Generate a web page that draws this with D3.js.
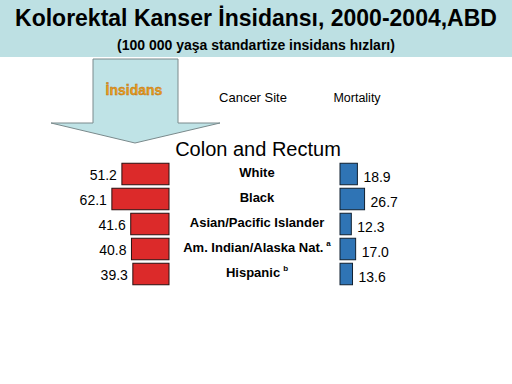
<!DOCTYPE html>
<html>
<head>
<meta charset="utf-8">
<script src="https://cdn.jsdelivr.net/npm/d3@7"></script>
<style>
  body { margin: 0; background: #fff; }
  text { font-family: "Liberation Sans", Arial, sans-serif; }
</style>
</head>
<body>
<div id="chart"></div>
<script>
// data
var categories = ["White", "Black", "Asian/Pacific Islander", "Am. Indian/Alaska Nat.", "Hispanic"];
var notes = ["", "", "", "a", "b"];
var incidence = [51.2, 62.1, 41.6, 40.8, 39.3];
var mortality = [18.9, 26.7, 12.3, 17.0, 13.6];

var width = 512, height = 384;

var svg = d3.select("#chart").append("svg")
  .attr("width", width)
  .attr("height", height);

// title band
svg.append("rect")
  .attr("x", 0).attr("y", 0)
  .attr("width", width).attr("height", 57)
  .attr("fill", "#bde0e3");

svg.append("text")
  .attr("x", 256).attr("y", 26)
  .attr("text-anchor", "middle")
  .style("font-size", "23px").style("font-weight", "bold")
  .text("Kolorektal Kanser İnsidansı, 2000-2004,ABD");

svg.append("text")
  .attr("x", 256).attr("y", 50)
  .attr("text-anchor", "middle")
  .style("font-size", "14px").style("font-weight", "bold")
  .text("(100 000 yaşa standartize insidans hızları)");

// big arrow
var arrow = [[93, 59], [178, 59], [178, 123], [220, 123], [135, 143], [51, 123], [93, 123]];
svg.append("path")
  .attr("d", d3.line()(arrow) + "Z")
  .attr("fill", "#bfe3e6")
  .attr("stroke", "#7a8a8c")
  .attr("stroke-width", 1);

svg.append("text")
  .attr("x", 134).attr("y", 95)
  .attr("text-anchor", "middle")
  .attr("fill", "#eaa01c")
  .attr("stroke", "#b86a10").attr("stroke-width", 0.4)
  .style("font-size", "14px").style("font-weight", "bold")
  .text("İnsidans");

// column headers
svg.append("text")
  .attr("x", 253).attr("y", 102)
  .attr("text-anchor", "middle")
  .style("font-size", "13px")
  .text("Cancer Site");

svg.append("text")
  .attr("x", 357).attr("y", 102)
  .attr("text-anchor", "middle")
  .style("font-size", "12.5px")
  .text("Mortality");

svg.append("text")
  .attr("x", 258).attr("y", 156)
  .attr("text-anchor", "middle")
  .style("font-size", "20px")
  .text("Colon and Rectum");

// scales
var y = d3.scaleBand()
  .domain(categories)
  .range([162, 286])
  .paddingInner(0.14)
  .paddingOuter(0.05);

var w = d3.scaleLinear().domain([0, 10]).range([0, 9.2]);

var redRight = 169, blueLeft = 340;

var rows = svg.selectAll("g.row")
  .data(categories)
  .enter().append("g")
  .attr("class", "row");

rows.append("rect")
  .attr("x", function(d, i) { return redRight - w(incidence[i]); })
  .attr("y", function(d) { return y(d); })
  .attr("width", function(d, i) { return w(incidence[i]); })
  .attr("height", y.bandwidth())
  .attr("fill", "#dc2a2a")
  .attr("stroke", "#2a1010").attr("stroke-width", 1);

rows.append("text")
  .attr("x", function(d, i) { return redRight - w(incidence[i]) - 5; })
  .attr("y", function(d) { return y(d) + y.bandwidth() / 2 + 6; })
  .attr("text-anchor", "end")
  .style("font-size", "14px")
  .text(function(d, i) { return incidence[i].toFixed(1); });

rows.append("rect")
  .attr("x", blueLeft)
  .attr("y", function(d) { return y(d); })
  .attr("width", function(d, i) { return w(mortality[i]); })
  .attr("height", y.bandwidth())
  .attr("fill", "#2f74b5")
  .attr("stroke", "#102030").attr("stroke-width", 1);

rows.append("text")
  .attr("x", function(d, i) { return blueLeft + w(mortality[i]) + 6; })
  .attr("y", function(d) { return y(d) + y.bandwidth() / 2 + 8; })
  .style("font-size", "14px")
  .text(function(d, i) { return mortality[i].toFixed(1); });

var lab = rows.append("text")
  .attr("x", 257)
  .attr("y", function(d) { return y(d) + y.bandwidth() / 2 + 3; })
  .attr("text-anchor", "middle")
  .style("font-size", "13px").style("font-weight", "bold");
lab.append("tspan").text(function(d) { return d; });
lab.append("tspan")
  .attr("dx", 3).attr("dy", -6)
  .style("font-size", "8px")
  .text(function(d, i) { return notes[i]; });
</script>
</body>
</html>
